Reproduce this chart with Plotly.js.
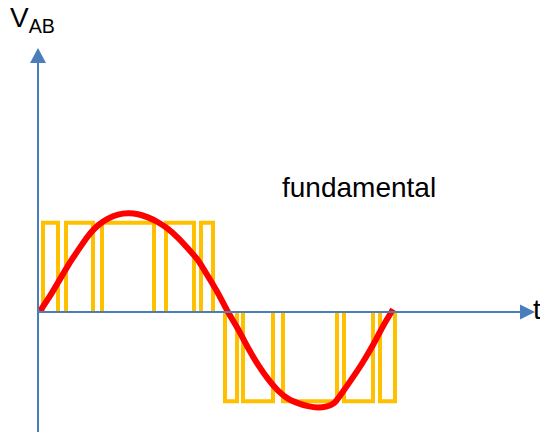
<!DOCTYPE html>
<html>
<head>
<meta charset="utf-8">
<script src="https://cdn.plot.ly/plotly-3.0.1.min.js"></script>
<style>
  html, body { margin: 0; padding: 0; background: #ffffff; }
  #chart { width: 540px; height: 432px; }
</style>
</head>
<body>
<div id="chart"></div>
<script>
// Switching pulses of the line-to-line voltage (per-unit amplitude)
const posPulseStart = [5, 28, 64, 128, 163];
const posPulseEnd   = [20, 55, 116, 156, 175];
const negPulseStart = [187, 205, 245, 306, 342];
const negPulseEnd   = [199, 235, 299, 335, 357];
const pulseLevel = 1.0;

// Fundamental component, sampled along one cycle
const fundT = [2, 12, 20, 30, 40, 50, 60, 70, 80, 90, 100, 110, 120, 130, 140, 150, 160, 170, 180, 190,
               200, 210, 220, 230, 240, 250, 260, 270, 280, 288, 296, 305, 315, 325, 335, 345, 355];
const fundV = [0.01, 0.18, 0.33, 0.52, 0.69, 0.85, 0.97, 1.045, 1.09, 1.105, 1.095, 1.06, 1.005, 0.93, 0.83, 0.71, 0.58, 0.40, 0.21, 0.0,
               -0.19, -0.40, -0.59, -0.75, -0.88, -0.97, -1.02, -1.055, -1.07, -1.06, -1.02, -0.89, -0.73, -0.56, -0.37, -0.16, 0.03];

const labels = { vertical: 'V<sub>AB</sub>', horizontal: 't', curve: 'fundamental' };

// Axis windows
const xRange = [-38, 502];
const yRange = [-1.344, 3.494];
const W = 540, H = 432;
const pxX = (xRange[1] - xRange[0]) / W;   // data units per pixel, horizontal
const pxY = (yRange[1] - yRange[0]) / H;   // data units per pixel, vertical

// Build the pulse train: each pulse is an open rectangle off the zero line
const pwmX = [], pwmY = [];
function addPulses(starts, ends, level) {
  for (let i = 0; i < starts.length; i++) {
    pwmX.push(starts[i], starts[i], ends[i], ends[i], null);
    pwmY.push(0, level, level, 0, null);
  }
}
addPulses(posPulseStart, posPulseEnd, pulseLevel);
addPulses(negPulseStart, negPulseEnd, -pulseLevel);

const traces = [
  {
    x: pwmX, y: pwmY, type: 'scatter', mode: 'lines',
    line: { color: '#FFC000', width: 4 },
    connectgaps: false, hoverinfo: 'skip'
  },
  {
    x: fundT, y: fundV, type: 'scatter', mode: 'lines',
    line: { color: '#FF0000', width: 6, shape: 'spline', smoothing: 0.7 },
    hoverinfo: 'skip'
  }
];

// Hand-drawn style axes with arrowheads
const axisColor = '#4A7EBB';
const yTip = 2.956, yArrowLen = 15 * pxY, yArrowHalf = 8 * pxX;
const xTip = 497, xArrowLen = 15 * pxX, xArrowHalf = 7.5 * pxY;
const shapes = [
  { type: 'line', xref: 'x', yref: 'y', x0: 0, x1: 0, y0: yRange[0], y1: yTip - yArrowLen,
    line: { color: axisColor, width: 2 }, layer: 'above' },
  { type: 'path', xref: 'x', yref: 'y', layer: 'above',
    path: `M ${-yArrowHalf} ${yTip - yArrowLen} L ${yArrowHalf} ${yTip - yArrowLen} L 0 ${yTip} Z`,
    fillcolor: axisColor, line: { color: axisColor, width: 0 } },
  { type: 'line', xref: 'x', yref: 'y', x0: 0, x1: xTip - xArrowLen, y0: 0, y1: 0,
    line: { color: axisColor, width: 2 }, layer: 'above' },
  { type: 'path', xref: 'x', yref: 'y', layer: 'above',
    path: `M ${xTip - xArrowLen} ${-xArrowHalf} L ${xTip - xArrowLen} ${xArrowHalf} L ${xTip} 0 Z`,
    fillcolor: axisColor, line: { color: axisColor, width: 0 } }
];

const textFont = { family: 'Liberation Sans, Arial, sans-serif', size: 28, color: '#000000' };
const annotations = [
  { xref: 'x', yref: 'y', x: -30, y: (312 - 20) * pxY, text: labels.vertical,
    xanchor: 'left', yanchor: 'middle', showarrow: false, font: textFont },
  { xref: 'x', yref: 'y', x: 493, y: 2 * pxY, text: labels.horizontal,
    xanchor: 'left', yanchor: 'middle', showarrow: false, font: textFont },
  { xref: 'x', yref: 'y', x: 242, y: (312 - 188) * pxY, text: labels.curve,
    xanchor: 'left', yanchor: 'middle', showarrow: false, font: textFont }
];

const layout = {
  width: W, height: H,
  margin: { l: 0, r: 0, t: 0, b: 0 },
  paper_bgcolor: '#ffffff', plot_bgcolor: '#ffffff',
  showlegend: false,
  xaxis: { range: xRange, visible: false, fixedrange: true },
  yaxis: { range: yRange, visible: false, fixedrange: true },
  shapes: shapes,
  annotations: annotations
};

Plotly.newPlot('chart', traces, layout, { staticPlot: true, displayModeBar: false });
</script>
</body>
</html>
